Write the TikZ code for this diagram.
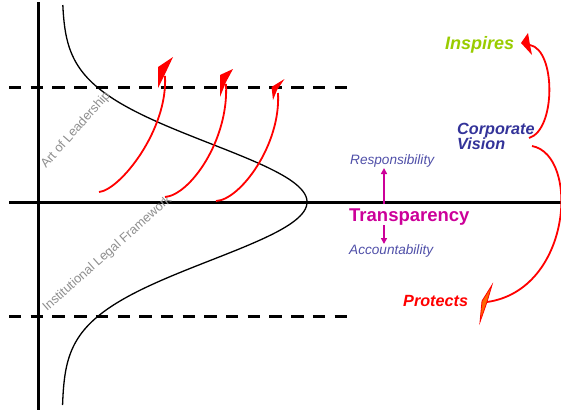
\documentclass[tikz,border=0pt]{standalone}
\usepackage{fontspec}
\setmainfont{Liberation Sans}
\usetikzlibrary{arrows.meta}
\definecolor{inspgreen}{HTML}{99CC00}
\definecolor{visionblue}{HTML}{333399}
\definecolor{termblue}{HTML}{4F4FA8}
\definecolor{transmag}{HTML}{CC0099}
\definecolor{framegray}{HTML}{8E8E8E}
\definecolor{headorange}{HTML}{FF6600}

\begin{document}
\begin{tikzpicture}[x=1pt,y=-1pt,
  axis/.style={line width=3pt},
  guide/.style={line width=3pt, dash pattern=on 12.4pt off 9.3pt},
  bell/.style={line width=1.3pt},
  sweep/.style={red, line width=1.8pt},
  redhead/.style={fill=red, draw=none},
  orangehead/.style={fill=headorange, draw=red, line width=0.8pt, line join=miter},
  magarrow/.style={transmag, line width=2pt, -{Triangle[length=6pt,width=6pt]}},
  lbl/.style={inner sep=0pt, anchor=base west},
  zone/.style={lbl, framegray, font=\fontsize{12.8}{14}\selectfont},
  term/.style={lbl, termblue, font=\itshape\fontsize{13.6}{15}\selectfont},
]
\useasboundingbox (0,0) rectangle (561,410);

% axes
\coordinate (ytop) at (38,2);
\coordinate (ybot) at (38,410);
\coordinate (xl) at (9,202);
\coordinate (xr) at (561,202);
\draw[axis] (ytop) -- (ybot);
\draw[axis] (xl) -- (xr);

% dashed bands
\coordinate (g1l) at (9,87);
\coordinate (g1r) at (347,87);
\coordinate (g2l) at (9,316);
\coordinate (g2r) at (347,316);
\draw[guide] (g1l) -- (g1r);
\draw[guide] (g2l) -- (g2r);

% bell curve lying on its side
\draw[bell] plot[domain=5:405, samples=160, smooth]
  ({62+245*exp(-1.47*((\x-202)/100)^2)}, {\x});

% zone labels
\node[zone, rotate=48.5] (art) at (46,169) {Art of Leadership};
\node[zone, rotate=41.6] (ilf) at (47,312) {Institutional Legal Framework};

% three rising arrows
\coordinate (a1s) at (99,192);
\coordinate (a1e) at (165,76);
\coordinate (a2s) at (165,197);
\coordinate (a2e) at (226,84);
\coordinate (a3s) at (216,201);
\coordinate (a3e) at (278,93);
\draw[sweep] (a1s) .. controls (120,190) and (168,130) .. (a1e);
\draw[sweep] (a2s) .. controls (190,195) and (229,140) .. (a2e);
\draw[sweep] (a3s) .. controls (240,200) and (281,145) .. (a3e);
\fill[redhead] (173,57) -- (158,67) -- (158,88) -- (165,74) -- cycle;
\fill[redhead] (233,69) -- (220,75) -- (220,97) -- (226,82) -- cycle;
\fill[redhead] (284.5,79) -- (271.5,87) -- (273,100) -- (277,90) -- cycle;

% right-hand labels
\node[lbl, inspgreen, font=\bfseries\itshape\fontsize{18}{20}\selectfont] (insp) at (445,49) {Inspires};
\node[lbl, visionblue, font=\bfseries\itshape\fontsize{16.2}{15.3}\selectfont] (cv1) at (457,134) {Corporate};
\node[lbl, visionblue, font=\bfseries\itshape\fontsize{16.2}{15.3}\selectfont] (cv2) at (457,149.3) {Vision};
\node[lbl, red, font=\bfseries\itshape\fontsize{16.2}{18}\selectfont] (prot) at (403,306.7) {Protects};

% vision arcs
\coordinate (i1) at (529,138);
\coordinate (i2) at (530,45);
\draw[sweep] (i1) .. controls (556,130) and (556,50) .. (i2);
\fill[redhead] (521,43) -- (528,33) -- (530,45) -- (532,55) -- cycle;

\coordinate (p1) at (532,146);
\coordinate (p2) at (487,302);
\draw[sweep] (p1) .. controls (580,155) and (572,290) .. (p2);
\filldraw[orangehead] (492,285) -- (487,302) -- (480,322) -- (482,301) -- cycle;

% transparency block
\node[term] (resp) at (350,164) {Responsibility};
\node[lbl, transmag, font=\bfseries\fontsize{18.5}{20}\selectfont] (trans) at (349,221.7) {Transparency};
\node[term] (acc) at (349,254) {Accountability};
\coordinate (up0) at (384,204);
\coordinate (up1) at (384,168);
\coordinate (dn0) at (384,225);
\coordinate (dn1) at (384,244);
\draw[magarrow] (up0) -- (up1);
\draw[magarrow] (dn0) -- (dn1);
\end{tikzpicture}
\end{document}
